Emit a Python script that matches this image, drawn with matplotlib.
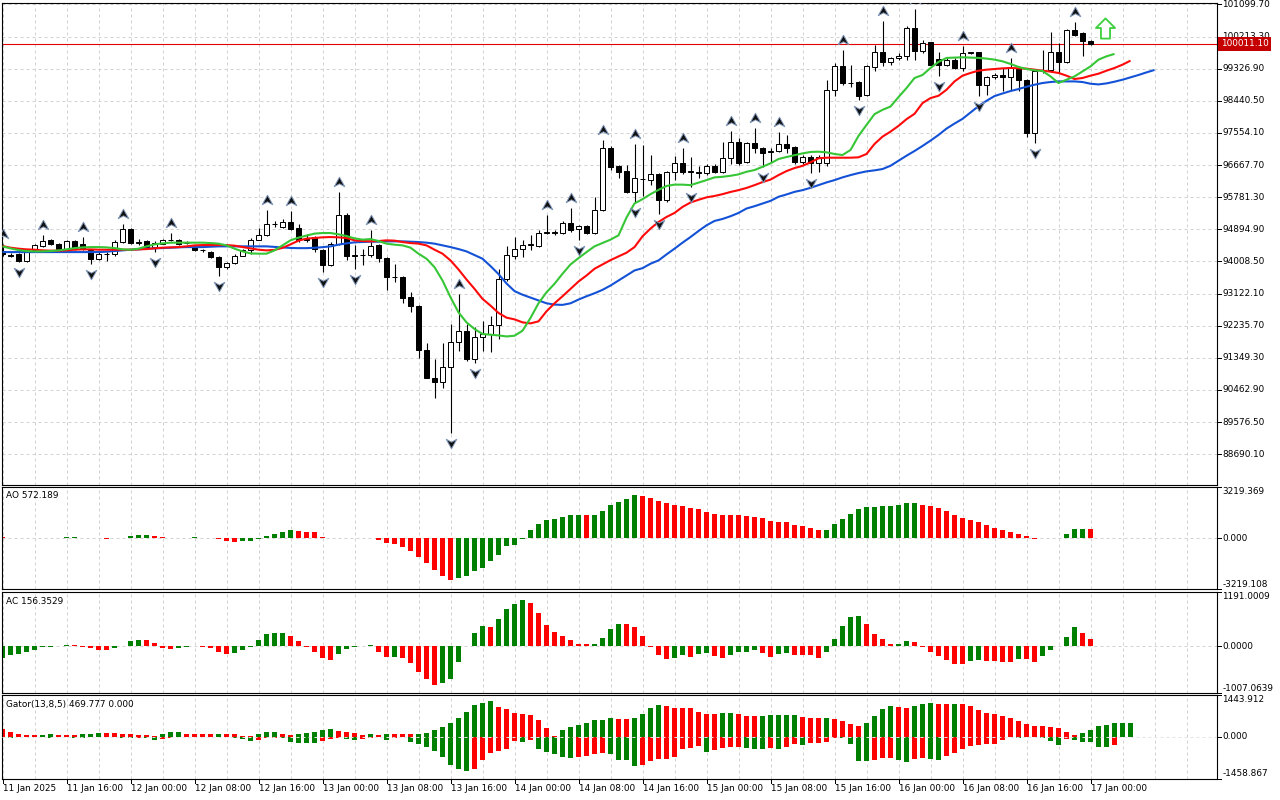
import matplotlib
matplotlib.use("Agg")
import matplotlib.pyplot as plt
import matplotlib.transforms as mtransforms
from matplotlib.path import Path
import numpy as np

plt.rcParams['font.family'] = ['DejaVu Sans']

# ------------------------------------------------------------------ data
opens = [94290, 94190, 94200, 94020, 94330, 94440, 94590, 94500, 94330, 94570,
         94500, 94310, 94080, 94200, 94200, 94540, 94890, 94530, 94570, 94400,
         94500, 94590, 94610, 94510, 94420, 94330, 94270, 94140, 93850, 93960,
         94170, 94310, 94610, 94750, 95030, 94960, 95098, 94940, 94600, 94682,
         94313, 93898, 94498, 95283, 94160, 94175, 94175, 94452, 94110, 93574,
         93574, 93020, 92790, 91571, 90805, 90694, 91082, 91774, 92097, 91312,
         91931, 92005, 92263, 93528, 94147, 94359, 94470, 94440, 94800, 94800,
         94800, 95080, 94890, 94980, 94800, 95440, 97150, 96650, 96500, 95930,
         96270, 96253, 96420, 95700, 96466, 96714, 96480, 96470, 96440, 96640,
         96480, 96850, 97295, 96760, 97268, 97130, 97020, 97060, 97240, 97175,
         96760, 96880, 96714, 96714, 98745, 99392, 98930, 98950, 98607, 99370,
         99789, 99512, 99622, 99668, 100453, 99807, 100056, 99595, 99438, 99576,
         99345, 99761, 99780, 98884, 99096, 99160, 99096, 99345, 99022, 97545,
         99253, 99280, 99780, 99503, 100388, 100315, 100102]
highs = [94500, 94240, 94230, 94330, 94480, 94750, 94620, 94520, 94600, 94600,
         94680, 94340, 94260, 94270, 94590, 95050, 94920, 94630, 94600, 94560,
         94620, 94780, 94640, 94580, 94450, 94350, 94300, 94160, 94000, 94200,
         94340, 94660, 94930, 95420, 95130, 95170, 95400, 95050, 94775, 94700,
         94340, 94544, 95929, 95347, 94452, 94341, 94867, 94480, 94130, 93925,
         93600, 93168, 92810, 91755, 91312, 91755, 92282, 93113, 92282, 92190,
         92374, 92513, 93787, 94424, 94682, 94590, 94730, 94867, 95283, 94870,
         95120, 95480, 95020, 95020, 95790, 97360, 97180, 96680, 96670, 97250,
         97220, 96945, 96450, 96500, 96917, 97130, 96900, 96640, 96710, 96710,
         97310, 97600, 97425, 97295, 97683, 97175, 97130, 97590, 97500, 97200,
         96950, 96950, 96950, 99022, 99484, 99850, 99438, 98980, 99420, 99992,
         100638, 99660, 99761, 100500, 100960, 100130, 100060, 99780, 99620, 99620,
         99950, 99800, 99780, 99120, 99200, 99345, 99620, 99400, 99050, 99300,
         99853, 100330, 100038, 100425, 100610, 100343, 100110]
lows = [94150, 94120, 93990, 94000, 94300, 94420, 94470, 94290, 94300, 94330,
        94330, 93940, 94050, 94030, 94170, 94520, 94500, 94450, 94370, 94270,
        94480, 94560, 94470, 94480, 94300, 94280, 94100, 93620, 93800, 93940,
        94150, 94220, 94590, 94720, 94960, 94930, 94867, 94540, 94544, 94267,
        93713, 93870, 94470, 94036, 93805, 93898, 94128, 93990, 93223, 93436,
        92873, 92623, 91331, 90790, 90251, 90527, 89280, 91543, 91260, 91200,
        91543, 91497, 91866, 93482, 94082, 94130, 94310, 94405, 94770, 94730,
        94770, 94820, 94590, 94770, 94770, 95400, 96530, 96300, 95900, 95650,
        95800, 96110, 95330, 95650, 96250, 96420, 96070, 96300, 96390, 96440,
        96440, 96710, 96668, 96714, 96990, 96600, 96760, 97040, 96990, 96710,
        96710, 96440, 96480, 96650, 98560, 98884, 98820, 98468, 98560, 99253,
        99392, 99438, 99576, 99576, 99576, 99760, 99392, 99115, 99400, 99320,
        99253, 99720, 98560, 98607, 99050, 98700, 98745, 98700, 97452, 97268,
        99200, 99240, 99207, 99484, 100222, 99669, 99990]
closes = [94200, 94170, 94020, 94310, 94450, 94570, 94500, 94310, 94570, 94360,
          94360, 94080, 94220, 94220, 94540, 94890, 94520, 94550, 94400, 94520,
          94590, 94610, 94500, 94530, 94330, 94310, 94130, 93850, 93960, 94170,
          94310, 94590, 94730, 95030, 95050, 95100, 94913, 94590, 94620, 94359,
          93898, 94498, 95283, 94147, 94175, 94190, 94442, 94101, 93574, 93590,
          92993, 92771, 91571, 90805, 90694, 91082, 91774, 92097, 91312, 91931,
          92005, 92263, 93528, 94175, 94359, 94470, 94480, 94800, 94810, 94810,
          95080, 94870, 94980, 94800, 95440, 97129, 96622, 96483, 95930, 96300,
          96290, 96420, 95700, 96466, 96714, 96483, 96490, 96460, 96640, 96480,
          96850, 97295, 96714, 97268, 97130, 96990, 97060, 97240, 97150, 96760,
          96900, 96714, 96880, 98745, 99392, 98930, 98920, 98560, 99392, 99789,
          99512, 99622, 99687, 100453, 99807, 100038, 99438, 99438, 99576, 99345,
          99761, 99780, 98884, 99096, 99160, 99096, 99345, 99004, 97545, 99253,
          99280, 99780, 99503, 100388, 100268, 100084, 100011.10]

# Alligator (values as displayed, incl. forward shift)
jaw = [94266, 94266, 94266, 94266, 94266, 94266, 94266, 94266, 94266, 94266,
       94266, 94266, 94266, 94277, 94294, 94313, 94332, 94341, 94360, 94368,
       94377, 94388, 94396, 94404, 94404, 94404, 94415, 94424, 94424, 94424,
       94424, 94424, 94424, 94424, 94410, 94395, 94380, 94375, 94375, 94385,
       94402, 94424, 94471, 94507, 94535, 94543, 94554, 94554, 94562, 94562,
       94562, 94554, 94543, 94526, 94499, 94451, 94404, 94349, 94285, 94183,
       94083, 93880, 93660, 93400, 93190, 93090, 93010, 92928, 92853, 92817,
       92809, 92853, 92956, 93047, 93130, 93224, 93343, 93482, 93620, 93759,
       93823, 93945, 94036, 94202, 94360, 94526, 94681, 94848, 95005, 95125,
       95180, 95255, 95346, 95468, 95532, 95607, 95679, 95792, 95856, 95928,
       95975, 96039, 96113, 96188, 96252, 96327, 96390, 96446, 96493, 96521,
       96557, 96648, 96787, 96925, 97055, 97194, 97341, 97498, 97673, 97812,
       97942, 98116, 98293, 98440, 98570, 98642, 98709, 98764, 98828, 98883,
       98931, 98958, 98975, 98975, 98975, 98958, 98911, 98892, 98920, 98967,
       99022, 99086, 99152, 99224, 99291]
teeth = [94432, 94388, 94360, 94341, 94332, 94313, 94305, 94305, 94313, 94332,
         94341, 94341, 94332, 94332, 94332, 94332, 94332, 94341, 94349, 94368,
         94388, 94396, 94404, 94424, 94451, 94460, 94460, 94460, 94460, 94443,
         94404, 94368, 94332, 94313, 94327, 94382, 94479, 94582, 94637, 94654,
         94673, 94681, 94673, 94654, 94590, 94571, 94562, 94571, 94590, 94582,
         94543, 94515, 94499, 94451, 94332, 94222, 94036, 93787, 93510, 93252,
         92975, 92789, 92587, 92457, 92410, 92327, 92299, 92355, 92632, 92853,
         93047, 93252, 93454, 93620, 93806, 93925, 94044, 94147, 94249, 94404,
         94701, 94914, 95097, 95235, 95346, 95512, 95634, 95709, 95776, 95814,
         95864, 95925, 95975, 96036, 96113, 96197, 96266, 96390, 96501, 96584,
         96645, 96742, 96853, 96870, 96870, 96870, 96870, 96881, 96972, 97249,
         97451, 97590, 97748, 97933, 98080, 98377, 98515, 98579, 98745, 98975,
         99133, 99208, 99271, 99299, 99318, 99335, 99346, 99335, 99327, 99299,
         99271, 99244, 99208, 99133, 99041, 99069, 99133, 99188, 99271, 99346,
         99437, 99548]
lips = [94424, 94368, 94321, 94294, 94285, 94285, 94294, 94313, 94341, 94377,
        94396, 94404, 94404, 94396, 94377, 94341, 94332, 94360, 94424, 94479,
        94507, 94526, 94526, 94526, 94526, 94526, 94515, 94499, 94451, 94360,
        94285, 94230, 94222, 94222, 94313, 94451, 94590, 94665, 94720, 94776,
        94792, 94792, 94756, 94709, 94645, 94609, 94626, 94571, 94499, 94471,
        94451, 94388, 94222, 94083, 93850, 93482, 93019, 92604, 92327, 92144,
        92006, 91986, 91967, 91939, 91958, 92097, 92449, 92853, 93158, 93391,
        93668, 93925, 94100, 94266, 94424, 94515, 94609, 94728, 95219, 95607,
        95726, 95864, 95983, 96091, 96127, 96127, 96113, 96183, 96252, 96327,
        96343, 96371, 96410, 96482, 96529, 96620, 96715, 96834, 96889, 96939,
        96989, 97028, 97036, 97019, 96972, 96944, 97083, 97471, 97775, 98072,
        98191, 98282, 98543, 98792, 99069, 99152, 99346, 99512, 99623, 99631,
        99640, 99631, 99623, 99604, 99576, 99529, 99457, 99374, 99318, 99280,
        99263, 99113, 98931, 99022, 99113, 99252, 99390, 99576, 99667, 99734]

# Fractal bars
fractal_up = [0, 5, 10, 15, 21, 33, 36, 42, 46, 57, 68, 71, 75, 79, 85, 91, 94, 97,
              105, 110, 114, 120, 126, 134]
fractal_dn = [2, 11, 19, 27, 40, 44, 56, 59, 72, 79, 82, 86, 95, 101, 107, 117, 122, 129]

# Buy signal arrow
signal_bar = [137.8]
signal_price = [100440]

ao = [95, 40, 15, -5, 10, 20, 30, 45, 75, 95,
      40, 10, -10, -20, 5, 20, 115, 180, 220, 160,
      95, 35, 30, 25, 95, 35, 10, -55, -200, -210,
      -180, -170, -30, 160, 265, 390, 535, 475, 390, 370,
      95, 15, 25, 10, -5, 5, 30, -110, -300, -370,
      -520, -770, -1150, -1570, -1990, -2350, -2660, -2510, -2400, -2090,
      -1880, -1460, -1040, -515, -430, -50, 540, 920, 1125, 1230,
      1355, 1470, 1490, 1480, 1500, 1740, 2075, 2305, 2470, 2760,
      2700, 2536, 2367, 2241, 2115, 2051, 1925, 1841, 1673, 1504,
      1500, 1495, 1490, 1420, 1336, 1252, 1105, 1041, 1035, 852,
      789, 663, 537, 545, 873, 1231, 1546, 1862, 1988, 1995,
      2051, 2058, 2115, 2241, 2250, 2115, 2051, 1925, 1736, 1483,
      1294, 1168, 1041, 852, 663, 537, 410, 284, 158, -20,
      -5, 10, 15, 284, 580, 585, 572.189]
ac = [-244, -192, -155, -118, -67, -22, -5, 15, 35, 25,
      -5, -45, -80, -85, -45, 20, 118, 140, 138, 65,
      -37, -60, -45, -5, 5, -5, -45, -118, -155, -150,
      -80, -5, 140, 281, 296, 300, 230, 118, -22, -118,
      -250, -303, -155, -60, -22, 15, 30, -118, -240, -230,
      -245, -360, -548, -710, -836, -806, -718, -348, 15, 289,
      437, 430, 607, 807, 918, 1006, 940, 718, 474, 318,
      222, 141, 55, 50, 52, 185, 385, 496, 481, 429,
      229, -15, -192, -266, -244, -192, -229, -155, -133, -207,
      -252, -178, -118, -115, -74, -140, -229, -170, -133, -178,
      -180, -192, -252, -118, 163, 451, 636, 673, 496, 274,
      163, 52, 55, 118, 89, -7, -118, -207, -303, -377,
      -380, -318, -303, -318, -320, -340, -342, -266, -281, -340,
      -207, -67, 15, 215, 414, 303, 156.3529]
gator_up = [255, 174, 104, 58, 46, 58, 81, 46, 45, 44,
            93, 104, 128, 127, 126, 104, 93, 58, 57, 35,
            93, 162, 163, 93, 81, 80, 79, 80, 79, 78,
            35, 12, 81, 162, 163, 81, 46, 81, 128, 174,
            220, 255, 209, 162, 128, 46, 81, 46, 104, 103,
            102, 93, 94, 139, 220, 348, 464, 638, 858, 1090,
            1160, 1218, 1044, 940, 835, 800, 742, 568, 313, 23,
            220, 336, 406, 487, 568, 580, 638, 603, 600, 638,
            777, 986, 1090, 1056, 986, 980, 975, 870, 777, 770,
            812, 815, 777, 719, 708, 712, 754, 757, 760, 762,
            673, 638, 635, 640, 603, 534, 441, 371, 476, 719,
            951, 1056, 1032, 998, 1056, 1137, 1160, 1125, 1120, 1125,
            1120, 1067, 916, 812, 777, 719, 661, 545, 452, 371,
            365, 336, 290, 174, 46, 116, 220, 371, 394, 455,
            462, 469.777]
gator_lo = [-35, -58, -23, -12, -12, -12, -35, -23, -12, -46,
            -46, -23, -12, -12, -12, -35, -46, -35, -58, -116,
            -70, -35, -23, -12, -12, -12, -12, -23, -12, -46,
            -93, -151, -116, -35, -35, -46, -186, -209, -209, -209,
            -151, -70, -35, -93, -116, -70, -46, -12, -116, -35,
            -12, -174, -267, -348, -499, -708, -986, -1137, -1206, -1137,
            -812, -580, -499, -418, -162, -186, -128, -441, -534, -615,
            -708, -731, -696, -673, -592, -557, -592, -812, -824, -1021,
            -998, -847, -789, -785, -708, -430, -383, -325, -534, -476,
            -383, -360, -348, -383, -441, -450, -383, -418, -348, -267,
            -300, -232, -209, -174, -40, -55, -245, -847, -850, -812,
            -754, -752, -812, -900, -789, -730, -765, -823, -673, -580,
            -441, -325, -302, -267, -244, -128, -12, -35, -12, -12,
            -35, -151, -290, -93, -116, -174, -186, -360, -365, -290]

price_levels = [88690.10, 89576.50, 90462.90, 91349.30, 92235.70, 93122.10, 94008.50,
                94894.90, 95781.30, 96667.70, 97554.10, 98440.50, 99326.90, 100213.30,
                101099.70]
ao_range = (-3219.108, 3219.369)
ac_range = (-1007.0639, 1191.0009)
gator_range = (-1458.867, 1443.912)
time_labels = ["11 Jan 2025", "11 Jan 16:00", "12 Jan 00:00", "12 Jan 08:00", "12 Jan 16:00",
               "13 Jan 00:00", "13 Jan 08:00", "13 Jan 16:00", "14 Jan 00:00", "14 Jan 08:00",
               "14 Jan 16:00", "15 Jan 00:00", "15 Jan 08:00", "15 Jan 16:00", "16 Jan 00:00",
               "16 Jan 08:00", "16 Jan 16:00", "17 Jan 00:00"]
bars_per_label = 8

# ------------------------------------------------------------------ style
FS = 6.4
GRID = '#d2d2d2'
DASH = (0, (3, 3))
C_GREEN = '#008000'
C_RED = '#ff0000'
W, H = 1280, 800

fig = plt.figure(figsize=(W / 100, H / 100), dpi=100)
fig.patch.set_facecolor('white')


def px_axes(x0, y0, x1, y1):
    a = fig.add_axes([x0 / W, 1 - y1 / H, (x1 - x0) / W, (y1 - y0) / H])
    a.set_xticks([])
    a.set_yticks([])
    for s in a.spines.values():
        s.set_color('black')
        s.set_linewidth(0.8)
    a.set_xlim(-0.0625, 151.81)
    return a


ax = px_axes(2, 2.5, 1217, 485)
ax_ao = px_axes(2, 487.3, 1217, 589.3)
ax_ac = px_axes(2, 591.7, 1217, 692.7)
ax_gt = px_axes(2, 695, 1217, 778.5)

ax.set_ylim(87840, 101152)
ax_ao.set_ylim(*ao_range)
ax_ac.set_ylim(*ac_range)
ax_gt.set_ylim(*gator_range)

# grid
for a in (ax, ax_ao, ax_ac, ax_gt):
    for b in range(0, 152, 4):
        a.axvline(b, color=GRID, lw=0.72, ls=DASH, zorder=0)
for lv in price_levels:
    ax.axhline(lv, color=GRID, lw=0.72, ls=DASH, zorder=0)
for a in (ax_ao, ax_ac):
    a.axhline(0, color=GRID, lw=0.72, ls=DASH, zorder=0)

# ------------------------------------------------------------------ main chart
o, h, l, c = (np.array(v, dtype=float) for v in (opens, highs, lows, closes))
x = np.arange(len(c))
last_price = closes[-1]
ax.axhline(last_price, color='#e00000', lw=0.8, zorder=1.5)
ax.vlines(x, l, h, color='black', lw=0.8, zorder=2)
bull = c >= o
ax.bar(x, np.abs(c - o), bottom=np.minimum(o, c), width=0.62,
       color=np.where(bull, 'white', 'black'), edgecolor='black', linewidth=0.72, zorder=2.1)

ax.plot(np.arange(len(jaw)), jaw, color='#1352d6', lw=1.5, zorder=3, solid_capstyle='butt')
ax.plot(np.arange(len(teeth)), teeth, color='#ff0a0a', lw=1.5, zorder=3.1, solid_capstyle='butt')
ax.plot(np.arange(len(lips)), lips, color='#36c636', lw=1.5, zorder=3.2, solid_capstyle='butt')

CL = [Path.MOVETO, Path.LINETO, Path.LINETO, Path.LINETO, Path.CLOSEPOLY]
up_path = Path([(0, 1), (1, -0.8), (0, -0.25), (-1, -0.8), (0, 1)], CL)
dn_path = Path([(0, -1), (1, 0.8), (0, 0.25), (-1, 0.8), (0, -1)], CL)
tr_up = mtransforms.offset_copy(ax.transData, fig=fig, y=10, units='dots')
tr_dn = mtransforms.offset_copy(ax.transData, fig=fig, y=-10, units='dots')
ax.plot(fractal_up, h[fractal_up], ls='none', marker=up_path, ms=7.6, mfc='#101010',
        mec='#7f95b8', mew=0.7, transform=tr_up, zorder=4)
ax.plot(fractal_dn, l[fractal_dn], ls='none', marker=dn_path, ms=7.6, mfc='#101010',
        mec='#7f95b8', mew=0.7, transform=tr_dn, zorder=4)

arrow_path = Path([(0, 1), (0.95, 0.05), (0.45, 0.05), (0.45, -1), (-0.45, -1),
                   (-0.45, 0.05), (-0.95, 0.05), (0, 1)],
                  [Path.MOVETO] + [Path.LINETO] * 6 + [Path.CLOSEPOLY])
ax.plot(signal_bar, signal_price, ls='none', marker=arrow_path, ms=14.5, mfc='white',
        mec='#3ccf3c', mew=1.3, zorder=5)

blend = mtransforms.blended_transform_factory(ax.transAxes, ax.transData)
for lv in price_levels:
    ax.plot([1.0, 1.0035], [lv, lv], transform=blend, color='black', lw=0.72, clip_on=False)
    ax.text(1.0045, lv, f'{lv:.2f}', transform=blend, ha='left', va='center',
            fontsize=FS, clip_on=False)
ax.text(1.0032, last_price, f'{last_price:.2f}', transform=blend, ha='left', va='center',
        fontsize=FS, color='white', clip_on=False, zorder=10,
        bbox=dict(boxstyle='square,pad=0.28', fc='#c40000', ec='none'))


# ------------------------------------------------------------------ histograms
def trend_colors(vals, first_up, magnitude=False):
    cols = []
    up = first_up
    for i, v in enumerate(vals):
        if i > 0:
            cur, prev = (abs(v), abs(vals[i - 1])) if magnitude else (v, vals[i - 1])
            if cur > prev:
                up = True
            elif cur < prev:
                up = False
        cols.append(C_GREEN if up else C_RED)
    return cols


ax_ao.bar(np.arange(len(ao)), ao, width=0.62, color=trend_colors(ao, False), lw=0, zorder=2)
ax_ac.bar(np.arange(len(ac)), ac, width=0.62, color=trend_colors(ac, True), lw=0, zorder=2)
ax_gt.bar(np.arange(len(gator_up)), gator_up, width=0.62,
          color=trend_colors(gator_up, False, True), lw=0, zorder=2)
ax_gt.bar(np.arange(len(gator_lo)), gator_lo, width=0.62,
          color=trend_colors(gator_lo, True, True), lw=0, zorder=2)
ax_gt.axhline(0, color='#e4e4e4', lw=0.72, ls=DASH, zorder=3)


def side_labels(a, lo, hi, fmt):
    bt = mtransforms.blended_transform_factory(a.transAxes, a.transData)
    for val, va in ((hi, 'top'), (0.0, 'center'), (lo, 'bottom')):
        a.plot([1.0, 1.0035], [val, val], transform=bt, color='black', lw=0.72, clip_on=False)
        a.text(1.0045, val, fmt.format(val), transform=bt, ha='left', va=va,
               fontsize=FS, clip_on=False)


side_labels(ax_ao, ao_range[0], ao_range[1], '{:.3f}')
side_labels(ax_ac, ac_range[0], ac_range[1], '{:.4f}')
side_labels(ax_gt, gator_range[0], gator_range[1], '{:.3f}')

ax_ao.text(0.0033, 0.915, f'AO {ao[-1]:.3f}', transform=ax_ao.transAxes, fontsize=FS,
           ha='left', va='center')
ax_ac.text(0.0033, 0.905, f'AC {ac[-1]:.4f}', transform=ax_ac.transAxes, fontsize=FS,
           ha='left', va='center')
ax_gt.text(0.0033, 0.885, f'Gator(13,8,5) {gator_up[-1]:.3f} {0:.3f}', transform=ax_gt.transAxes,
           fontsize=FS, ha='left', va='center')

# time axis
tb = mtransforms.blended_transform_factory(ax_gt.transData, ax_gt.transAxes)
gh = 778.5 - 695
for k, lab in enumerate(time_labels):
    b = k * bars_per_label
    ax_gt.plot([b, b], [0, -4 / gh], transform=tb, color='black', lw=0.72, clip_on=False)
    ax_gt.text(b + 0.12, -10.2 / gh, lab, transform=tb, ha='left', va='center',
               fontsize=FS, clip_on=False)

fig.savefig('out.png', dpi=100)
